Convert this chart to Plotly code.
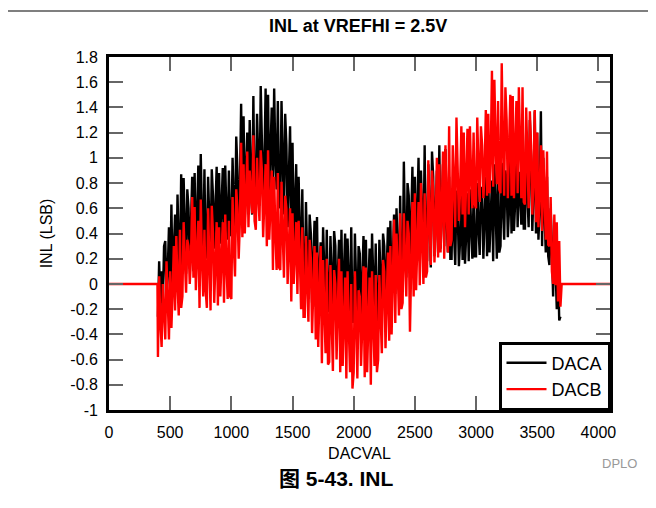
import plotly.graph_objects as go

# ---------------- data ----------------
x_start = 400      # first measured DAC code
x_step = 10        # code step between listed samples

daca_vals = [
    -0.26, 0.18, -0.2, 0.1, -0.15, 0.3, 0.34, -0.1, 0.1, 0.45, -0.05, 0.63, 0.0, 0.3, 0.55, 0.02, 0.71, 0.3, 0.05, 0.87,
    0.1, 0.84, 0.4, 0.08, 0.75, 0.6, 0.12, 0.45, 0.85, 0.1, 0.88, 0.15, 0.5, 0.94, 0.12, 1.03, 0.5, 0.18, 0.91, 0.2,
    0.3, 0.85, 0.5, 0.22, 0.91, 0.7, 0.28, 0.55, 0.93, 0.25, 0.88, 0.32, 0.6, 0.92, 0.3, 0.94, 0.55, 0.35, 0.9, 0.38,
    0.4, 1.0, 0.6, 0.42, 1.17, 0.9, 0.45, 0.75, 1.43, 0.5, 1.33, 0.52, 0.9, 1.2, 0.55, 1.3, 0.8, 0.55, 1.49, 0.6,
    0.65, 1.35, 1.0, 0.62, 1.57, 1.2, 0.68, 0.95, 1.55, 0.7, 1.5, 0.72, 1.05, 1.4, 0.7, 1.55, 1.0, 0.75, 1.45, 0.65,
    0.6, 1.45, 1.0, 0.55, 1.35, 1.1, 0.45, 0.8, 1.25, 0.35, 1.12, 0.3, 0.6, 0.95, 0.2, 0.85, 0.4, 0.05, 0.75, 0.0,
    -0.1, 0.65, 0.2, -0.12, 0.55, 0.4, -0.15, 0.1, 0.5, -0.18, 0.53, -0.15, 0.1, 0.33, -0.2, 0.45, 0.1, -0.2, 0.43, -0.22,
    -0.2, 0.38, 0.05, -0.25, 0.42, 0.3, -0.22, 0.0, 0.35, -0.28, 0.43, -0.25, 0.05, 0.4, -0.3, 0.36, 0.0, -0.25, 0.45, -0.3,
    -0.3, 0.4, 0.0, -0.33, 0.3, 0.24, -0.35, -0.05, 0.38, -0.3, 0.35, -0.32, 0.0, 0.28, -0.35, 0.4, 0.05, -0.3, 0.32, -0.33,
    -0.28, 0.35, 0.05, -0.25, 0.4, 0.3, -0.2, 0.1, 0.45, -0.18, 0.5, -0.12, 0.2, 0.55, -0.08, 0.6, 0.25, -0.05, 0.7, 0.0,
    0.0, 0.97, 0.4, 0.05, 0.8, 0.7, 0.08, 0.45, 0.93, 0.12, 0.85, 0.15, 0.5, 1.0, 0.18, 0.9, 0.5, 0.2, 1.1, 0.22,
    0.18, 0.95, 0.55, 0.13, 1.05, 0.85, 0.22, 0.5, 0.9, 0.25, 1.1, 0.28, 0.55, 0.95, 0.3, 1.07, 0.5, 0.25, 0.85, 0.2,
    0.2, 0.75, 0.4, 0.15, 0.74, 0.6, 0.14, 0.35, 0.7, 0.19, 0.78, 0.16, 0.4, 0.72, 0.18, 0.75, 0.45, 0.2, 0.7, 0.22,
    0.22, 0.8, 0.45, 0.23, 0.77, 0.7, 0.2, 0.5, 0.85, 0.22, 0.9, 0.25, 0.55, 0.82, 0.18, 0.95, 0.6, 0.2, 0.98, 0.25,
    0.3, 0.96, 0.6, 0.35, 0.9, 0.8, 0.37, 0.6, 1.0, 0.4, 0.95, 0.42, 0.65, 1.1, 0.45, 0.89, 0.7, 0.47, 1.05, 0.44,
    0.44, 1.2, 0.7, 0.45, 1.3, 1.0, 0.42, 0.75, 1.37, 0.4, 1.2, 0.35, 0.6, 1.37, 0.3, 1.0, 0.55, 0.25, 0.85, 0.22,
    0.15, 0.6, 0.3, -0.1, 0.45, 0.0, -0.2, 0.2, -0.29, -0.26,
]

dacb_vals = [
    -0.58, 0.06, -0.3, -0.5, 0.0, -0.2, -0.44, 0.18, -0.1, -0.44, 0.1, -0.35, -0.05, 0.3, -0.21, 0.38, 0.0, -0.25, 0.43, -0.19,
    -0.1, 0.49, 0.2, -0.07, 0.35, 0.3, 0.0, 0.2, 0.69, 0.05, 0.61, -0.05, 0.25, 0.5, -0.19, 0.67, 0.2, -0.1, 0.43, -0.05,
    -0.19, 0.6, 0.2, -0.21, 0.62, 0.4, -0.15, 0.1, 0.49, -0.17, 0.45, -0.1, 0.2, 0.49, -0.15, 0.55, 0.15, -0.12, 0.5, -0.1,
    -0.12, 0.69, 0.3, 0.06, 0.75, 0.6, 0.2, 0.5, 1.12, 0.37, 0.95, 0.4, 0.7, 1.05, 0.45, 0.9, 0.7, 0.56, 1.18, 0.5,
    0.43, 1.0, 0.7, 0.5, 1.06, 0.9, 0.37, 0.6, 0.95, 0.3, 1.06, 0.35, 0.6, 0.9, 0.11, 0.85, 0.4, 0.11, 0.88, 0.13,
    0.11, 0.81, 0.4, 0.05, 0.7, 0.6, 0.0, 0.3, 0.6, -0.14, 0.56, 0.0, 0.25, 0.49, -0.08, 0.5, 0.2, -0.2, 0.45, -0.26,
    -0.26, 0.38, 0.0, -0.3, 0.35, 0.2, -0.39, -0.1, 0.3, -0.44, 0.25, -0.5, -0.15, 0.3, -0.63, 0.19, -0.2, -0.55, 0.2, -0.64,
    -0.62, 0.15, -0.3, -0.69, 0.11, 0.0, -0.6, -0.25, 0.2, -0.7, 0.1, -0.65, -0.3, 0.05, -0.75, 0.1, -0.35, -0.7, 0.0, -0.83,
    -0.7, 0.1, -0.3, -0.75, -0.05, -0.1, -0.65, -0.35, 0.14, -0.74, 0.13, -0.7, -0.3, 0.05, -0.8, 0.1, -0.3, -0.65, 0.07, -0.7,
    -0.6, 0.07, -0.25, -0.55, 0.19, 0.1, -0.51, -0.15, 0.25, -0.45, 0.3, -0.4, -0.05, 0.51, -0.31, 0.4, 0.1, -0.25, 0.56, -0.2,
    -0.15, 0.56, 0.2, -0.1, 0.5, 0.4, -0.38, 0.1, 0.65, -0.1, 0.72, -0.05, 0.3, 0.65, -0.01, 0.8, 0.35, 0.0, 0.72, 0.05,
    0.1, 0.98, 0.5, 0.15, 0.9, 0.75, 0.17, 0.45, 1.0, 0.21, 0.95, 0.25, 0.6, 1.05, 0.2, 1.1, 0.6, 0.25, 1.25, 0.3,
    0.35, 1.1, 0.8, 0.45, 1.32, 1.0, 0.5, 0.75, 1.25, 0.55, 1.2, 0.45, 0.8, 1.23, 0.55, 1.25, 0.85, 0.6, 1.2, 0.63,
    0.6, 1.32, 0.9, 0.65, 1.25, 1.1, 0.68, 0.9, 1.38, 0.7, 1.35, 0.72, 1.0, 1.69, 0.77, 1.62, 1.1, 0.79, 1.45, 0.75,
    0.72, 1.75, 1.1, 0.7, 1.56, 1.3, 0.68, 1.0, 1.5, 0.7, 1.49, 0.68, 1.1, 1.45, 0.72, 1.56, 1.1, 0.68, 1.56, 0.65,
    0.63, 1.4, 1.0, 0.6, 1.37, 1.1, 0.55, 0.85, 1.38, 0.49, 1.2, 0.45, 0.75, 1.1, 0.42, 1.06, 0.7, 0.35, 1.05, 0.31,
    0.3, 0.69, 0.1, 0.0, 0.55, -0.01, 0.49, -0.14, 0.34, -0.18,
]

# DACB output held at zero outside the measured code range
flat_before_x = [0, 396]
flat_after_x = [3700, 4095]
flat_vals = [0, 0]

x_ticks = [0, 500, 1000, 1500, 2000, 2500, 3000, 3500, 4000]
y_tickvals = [-1, -0.8, -0.6, -0.4, -0.2, 0, 0.2, 0.4, 0.6, 0.8, 1, 1.2, 1.4, 1.6, 1.8]
y_ticktext = ["-1", "-0.8", "-0.6", "-0.4", "-0.2", "0", "0.2", "0.4", "0.6",
              "0.8", "1", "1.2", "1.4", "1.6", "1.8"]

title_text = "INL at VREFHI = 2.5V"
caption_text = "图 5-43. INL"
watermark_text = "DPLO"

# ---------------- build ----------------
def codes(vals):
    return [x_start + x_step * i for i in range(len(vals))]

FONT = "Liberation Sans, Arial, sans-serif"

fig = go.Figure()
fig.add_trace(go.Scatter(x=codes(daca_vals), y=daca_vals, mode="lines",
                         name="DACA", line=dict(color="black", width=2.4)))
fig.add_trace(go.Scatter(x=flat_before_x + codes(dacb_vals) + flat_after_x,
                         y=flat_vals + dacb_vals + flat_vals, mode="lines",
                         name="DACB", line=dict(color="#ff0000", width=2.4)))

# the page body adds an 8 px offset, so the figure is 8 px smaller
W, H = 648, 500
L, R, T, B = 101, 46, 49, 98
pw, ph = W - L - R, H - T - B

def px_x(x):  # figure px -> paper
    return (x - L) / pw

def px_y(y):
    return 1 - (y - T) / ph

axis_common = dict(showline=True, linecolor="black", linewidth=2.7, mirror="ticks",
                   ticks="inside", ticklen=14, tickwidth=1.5, tickcolor="#666666",
                   showgrid=False, zeroline=False,
                   tickfont=dict(family=FONT, size=16, color="black"))

fig.update_layout(
    width=W, height=H,
    margin=dict(l=L, r=R, t=T, b=B),
    paper_bgcolor="white", plot_bgcolor="white",
    font=dict(family=FONT, size=16, color="black"),
    xaxis=dict(range=[0, 4095], tickvals=x_ticks, ticktext=[str(v) for v in x_ticks],
               ticklabelstandoff=6,
               title=dict(text="DACVAL", font=dict(family=FONT, size=16), standoff=8),
               **axis_common),
    yaxis=dict(range=[-1, 1.8], tickvals=y_tickvals, ticktext=y_ticktext,
               ticklabelstandoff=5,
               title=dict(text="INL (LSB)", font=dict(family=FONT, size=16), standoff=14),
               **axis_common),
    legend=dict(x=1, y=0, xanchor="right", yanchor="bottom",
                bgcolor="white", bordercolor="black", borderwidth=2.5,
                font=dict(family=FONT, size=18), itemwidth=40),
    showlegend=True,
)

fig.add_annotation(text="<b>" + title_text + "</b>", xref="paper", yref="paper",
                   x=px_x(350), y=px_y(18), xanchor="center", yanchor="middle",
                   showarrow=False, font=dict(family=FONT, size=18, color="black"))
fig.add_annotation(text="<b>" + caption_text + "</b>", xref="paper", yref="paper",
                   x=px_x(328), y=px_y(470), xanchor="center", yanchor="middle",
                   showarrow=False,
                   font=dict(family="Liberation Sans, Noto Sans CJK SC, sans-serif", size=21, color="black"))
fig.add_annotation(text=watermark_text, xref="paper", yref="paper",
                   x=px_x(611), y=px_y(455), xanchor="center", yanchor="middle",
                   showarrow=False, font=dict(family=FONT, size=13, color="#999999"))
fig.add_shape(type="line", xref="paper", yref="paper",
              x0=px_x(0), x1=px_x(W), y0=px_y(3), y1=px_y(3),
              line=dict(color="black", width=1.2))

fig.write_html("out.html")
